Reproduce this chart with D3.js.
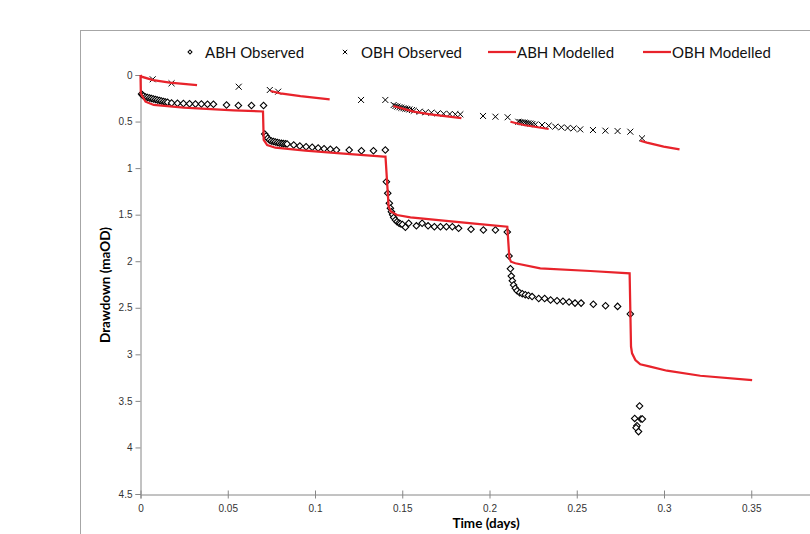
<!DOCTYPE html>
<html>
<head>
<meta charset="utf-8">
<script src="https://cdn.jsdelivr.net/npm/d3@7"></script>
<style>
  body { margin: 0; background: #fff; }
  svg { display: block; font-family: Lato, "Open Sans", sans-serif; }
</style>
</head>
<body>
<script>
// ---- data (time in days, drawdown in m) ----
let abhObsT = [0.0006, 0.0011, 0.0017, 0.0029, 0.0040, 0.0052, 0.0063, 0.0074, 0.0086, 0.0097, 0.0109, 0.0120, 0.0132, 0.0143, 0.0155,
  0.0178, 0.0212, 0.0246, 0.0281, 0.0315, 0.0349, 0.0384, 0.0418, 0.0493, 0.0561, 0.0636, 0.0705,
  0.0712, 0.0720, 0.0729, 0.0739, 0.0750, 0.0762, 0.0773, 0.0785, 0.0796, 0.0808, 0.0819, 0.0831, 0.0840,
  0.0878, 0.0913, 0.0949, 0.0984, 0.1018, 0.1052, 0.1088, 0.1123, 0.1196, 0.1266, 0.1335, 0.1403,
  0.1409, 0.1417, 0.1426, 0.1432, 0.1438, 0.1445, 0.1451, 0.1461, 0.1470, 0.1481, 0.1489, 0.1501,
  0.1518, 0.1537, 0.1581, 0.1614, 0.1648, 0.1684, 0.1719, 0.1753, 0.1787, 0.1823, 0.1894, 0.1965, 0.2034, 0.2102,
  0.2112, 0.2120, 0.2125, 0.2131, 0.2138, 0.2148, 0.2158, 0.2173, 0.2188, 0.2205, 0.2223, 0.2244,
  0.2282, 0.2316, 0.2350, 0.2387, 0.2421, 0.2456, 0.2490, 0.2525, 0.2595, 0.2665, 0.2734, 0.2807,
  0.2860, 0.2832, 0.2868, 0.2876, 0.2845, 0.2840, 0.2854];
let abhObsD = [0.204, 0.215, 0.226, 0.236, 0.242, 0.247, 0.252, 0.258, 0.263, 0.268, 0.274, 0.279, 0.285, 0.290, 0.293,
  0.301, 0.304, 0.306, 0.309, 0.311, 0.311, 0.315, 0.315, 0.322, 0.328, 0.328, 0.328,
  0.634, 0.655, 0.680, 0.698, 0.709, 0.714, 0.720, 0.725, 0.730, 0.734, 0.737, 0.739, 0.741,
  0.752, 0.763, 0.770, 0.776, 0.784, 0.792, 0.798, 0.806, 0.806, 0.813, 0.813, 0.806,
  1.146, 1.270, 1.378, 1.430, 1.470, 1.500, 1.530, 1.557, 1.575, 1.590, 1.598, 1.605,
  1.636, 1.593, 1.620, 1.593, 1.620, 1.630, 1.630, 1.630, 1.630, 1.647, 1.657, 1.665, 1.665, 1.686,
  1.944, 2.080, 2.160, 2.210, 2.255, 2.290, 2.317, 2.338, 2.350, 2.360, 2.368, 2.380,
  2.400, 2.400, 2.417, 2.424, 2.430, 2.438, 2.450, 2.450, 2.463, 2.478, 2.485, 2.567,
  3.555, 3.688, 3.695, 3.695, 3.767, 3.788, 3.830];

let obhObsT = [0.0070, 0.0178, 0.0563, 0.0741, 0.0789, 0.1264, 0.1403,
  0.1451, 0.1461, 0.1472, 0.1484, 0.1495, 0.1507, 0.1518, 0.1529, 0.1541, 0.1556,
  0.1566, 0.1600, 0.1633, 0.1667, 0.1703, 0.1737, 0.1772, 0.1804, 0.1833,
  0.1963, 0.2034, 0.2104,
  0.2165, 0.2177, 0.2188, 0.2200, 0.2211, 0.2223, 0.2234, 0.2246,
  0.2263, 0.2301, 0.2339, 0.2377, 0.2412, 0.2448, 0.2482, 0.2520,
  0.2593, 0.2664, 0.2734, 0.2807, 0.2874];
let obhObsD = [0.046, 0.089, 0.126, 0.161, 0.179, 0.268, 0.268,
  0.322, 0.333, 0.340, 0.346, 0.352, 0.357, 0.362, 0.365, 0.370, 0.376,
  0.384, 0.394, 0.401, 0.405, 0.412, 0.416, 0.419, 0.422, 0.422,
  0.440, 0.448, 0.454,
  0.502, 0.505, 0.508, 0.511, 0.515, 0.518, 0.522, 0.526,
  0.530, 0.537, 0.544, 0.555, 0.562, 0.569, 0.573, 0.584,
  0.591, 0.598, 0.602, 0.609, 0.680];

let abhModT = [0, 0.0002, 0.0029, 0.0076, 0.0248, 0.0534, 0.0702,
  0.0706, 0.0726, 0.0773, 0.0945, 0.1146, 0.1394, 0.1404,
  0.1422, 0.1436, 0.1470, 0.1547, 0.1737, 0.1929, 0.2102,
  0.2114, 0.2123, 0.2148, 0.2291, 0.2578, 0.2803,
  0.2811, 0.2817, 0.2836, 0.2864, 0.2921, 0.3017, 0.3208, 0.3505];
let abhModD = [0, 0.200, 0.287, 0.322, 0.351, 0.379, 0.392,
  0.698, 0.752, 0.781, 0.813, 0.843, 0.877, 0.877,
  1.414, 1.468, 1.504, 1.528, 1.565, 1.600, 1.629,
  1.969, 2.005, 2.022, 2.076, 2.105, 2.130,
  2.918, 2.989, 3.061, 3.107, 3.133, 3.176, 3.230, 3.276];

// OBH modelled is drawn in five separate pieces
let obhModT = [
  [0, 0.0006, 0.0073, 0.0168, 0.0324],
  [0.0745, 0.0802, 0.0917, 0.1084],
  [0.1449, 0.1566, 0.1661, 0.1839],
  [0.2120, 0.2196, 0.2339],
  [0.2864, 0.2902, 0.2998, 0.3089]
];
let obhModD = [
  [0, 0.018, 0.054, 0.083, 0.110],
  [0.172, 0.197, 0.226, 0.261],
  [0.333, 0.394, 0.422, 0.462],
  [0.502, 0.537, 0.580],
  [0.706, 0.727, 0.770, 0.798]
];

let xTicks = [0, 0.05, 0.1, 0.15, 0.2, 0.25, 0.3, 0.35];
let yTicks = [0, 0.5, 1, 1.5, 2, 2.5, 3, 3.5, 4, 4.5];

let legendNames = ["ABH Observed", "OBH Observed", "ABH Modelled", "OBH Modelled"];

// ---- layout ----
let w = 810;
let h = 534;
let red = "#e8232b";
let axisGrey = "#868686";

let svg = d3.select("body")
    .append("svg")
    .attr("width", w)
    .attr("height", h);

// chart area border (runs past the right and bottom edges, as in the source image)
svg.append("rect")
    .attr("x", 80.5)
    .attr("y", 30.5)
    .attr("width", 800)
    .attr("height", 560)
    .attr("fill", "none")
    .attr("stroke", "#a6a6a6");

let x = d3.scaleLinear().domain([0, 0.4]).range([140.5, 838.5]);
let y = d3.scaleLinear().domain([0, 4.5]).range([75, 494]);

// y axis
let yAxis = svg.append("g")
    .attr("transform", "translate(140.5,0)")
    .call(d3.axisLeft(y).tickValues(yTicks).tickSize(5).tickPadding(3).tickFormat(d3.format("")));
yAxis.select(".domain").attr("stroke", axisGrey);
yAxis.selectAll(".tick line").attr("stroke", axisGrey);
yAxis.selectAll("text")
    .style("font-size", "10px")
    .attr("fill", "#333");

// x axis, ticks crossing the line
let xAxis = svg.append("g")
    .attr("transform", "translate(0,494.5)")
    .call(d3.axisBottom(x).tickValues(xTicks).tickSize(4).tickPadding(6).tickFormat(d3.format("")));
xAxis.select(".domain").attr("stroke", axisGrey);
xAxis.selectAll(".tick line").attr("stroke", axisGrey).attr("y1", -4);
xAxis.selectAll("text")
    .style("font-size", "10px")
    .attr("fill", "#333");

// axis titles
svg.append("text")
    .attr("transform", "translate(110,285) rotate(-90)")
    .attr("text-anchor", "middle")
    .style("font-size", "13.5px")
    .style("font-weight", "bold")
    .text("Drawdown (maOD)");

svg.append("text")
    .attr("x", 486)
    .attr("y", 528)
    .attr("text-anchor", "middle")
    .style("font-size", "13.5px")
    .style("font-weight", "bold")
    .text("Time (days)");

// markers
let diamond = d3.symbol().type(d3.symbolSquare).size(21);
let cross = d3.symbol().type(d3.symbolX).size(25);

svg.append("g").selectAll("path")
    .data(d3.range(abhObsT.length))
    .enter()
    .append("path")
    .attr("d", diamond)
    .attr("transform", function(i) {
        return "translate(" + x(abhObsT[i]) + "," + y(abhObsD[i]) + ") rotate(45)";
    })
    .attr("fill", "#fff")
    .attr("stroke", "#000")
    .attr("stroke-width", 1.1);

svg.append("g").selectAll("path")
    .data(d3.range(obhObsT.length))
    .enter()
    .append("path")
    .attr("d", cross)
    .attr("transform", function(i) {
        return "translate(" + x(obhObsT[i]) + "," + y(obhObsD[i]) + ")";
    })
    .attr("fill", "none")
    .attr("stroke", "#000")
    .attr("stroke-width", 1);

// modelled lines
let line = d3.line()
    .x(function(p) { return x(p[0]); })
    .y(function(p) { return y(p[1]); });

svg.append("path")
    .attr("d", line(d3.zip(abhModT, abhModD)))
    .attr("fill", "none")
    .attr("stroke", red)
    .attr("stroke-width", 2.25);

svg.append("g").selectAll("path")
    .data(d3.range(obhModT.length))
    .enter()
    .append("path")
    .attr("d", function(k) { return line(d3.zip(obhModT[k], obhModD[k])); })
    .attr("fill", "none")
    .attr("stroke", red)
    .attr("stroke-width", 2.25);

// legend
let legend = svg.append("g").style("font-size", "15px");
let legendX = [190, 345, 488, 643];

legend.append("path")
    .attr("d", diamond.size(8)())
    .attr("transform", "translate(" + legendX[0] + ",52) rotate(45)")
    .attr("fill", "#fff")
    .attr("stroke", "#000");
legend.append("path")
    .attr("d", cross.size(14)())
    .attr("transform", "translate(" + legendX[1] + ",52)")
    .attr("fill", "none")
    .attr("stroke", "#000");
[2, 3].forEach(function(k) {
    legend.append("line")
        .attr("x1", legendX[k])
        .attr("x2", legendX[k] + 28)
        .attr("y1", 52)
        .attr("y2", 52)
        .attr("stroke", red)
        .attr("stroke-width", 2.25);
});

let textX = [205, 361, 517, 672];
legend.selectAll("text")
    .data(legendNames)
    .enter()
    .append("text")
    .attr("x", function(d, i) { return textX[i]; })
    .attr("y", 57.5)
    .attr("fill", "#111")
    .text(function(d) { return d; });
</script>
</body>
</html>
